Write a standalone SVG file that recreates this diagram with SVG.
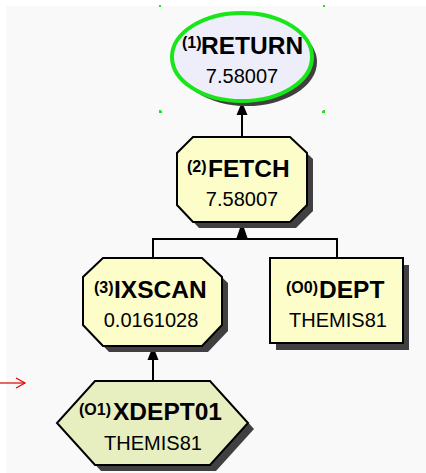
<svg xmlns="http://www.w3.org/2000/svg" width="426" height="473" viewBox="0 0 426 473">
<defs>
<style>
.sh{fill:#404040}
.bd{stroke:#000;stroke-width:2}
.y{fill:#fdfdc9}
.g{fill:#e7efc1}
.t{font-family:"Liberation Sans",Arial,sans-serif;fill:#000}
.sup{font-size:16px;font-weight:bold}
.big{font-size:24.5px;font-weight:bold}
.val{font-size:20px;text-anchor:middle}
.ln{stroke:#000;stroke-width:2;fill:none}
.hd{fill:#000}
.sel{stroke:#19e619;stroke-width:2;fill:none}
</style>
</defs>
<rect x="0" y="0" width="426" height="473" fill="#ffffff"/>
<rect x="6" y="6" width="420" height="467" fill="#f9f9f9"/>
<g id="connectors">
<line class="ln" x1="242" y1="137" x2="242" y2="110"/>
<polygon class="hd" points="242,102 236.5,115 247.5,115"/>
<line class="ln" x1="242" y1="239" x2="242" y2="230"/>
<polygon class="hd" points="242,222 236.5,238 247.5,238"/>
<polyline class="ln" points="153,258 153,239 337,239 337,258"/>
<line class="ln" x1="153" y1="381" x2="153" y2="355"/>
<polygon class="hd" points="153,346 147.5,360 158.5,360"/>
</g>
<g id="n1">
<ellipse class="sh" cx="247" cy="62" rx="70" ry="44"/>
<ellipse cx="242" cy="57" rx="70" ry="44" fill="#eeeefb" stroke="#19e619" stroke-width="4"/>
<text class="t"><tspan class="sup" x="182" y="48">(1)</tspan><tspan class="big" x="201" y="54">RETURN</tspan></text>
<text class="t val" x="242" y="83">7.58007</text>
<path class="sel" d="M160,5 v2 M324,5 v2 M160,110 v2 h2 M324,110 v2 h-2"/>
</g>
<g id="n2">
<polygon class="sh" points="199,143 296,143 313,159 313,211 296,228 199,228 183,211 183,159"/>
<polygon class="y bd" points="193,137 290,137 307,153 307,205 290,222 193,222 177,205 177,153"/>
<text class="t"><tspan class="sup" x="187" y="172">(2)</tspan><tspan class="big" x="208" y="177">FETCH</tspan></text>
<text class="t val" x="242" y="206">7.58007</text>
</g>
<g id="n3">
<polygon class="sh" points="109,264 208,264 228,283 228,331 208,352 109,352 89,331 89,283"/>
<polygon class="y bd" points="103,258 202,258 222,277 222,325 202,346 103,346 83,325 83,277"/>
<text class="t"><tspan class="sup" x="94" y="293">(3)</tspan><tspan class="big" x="114" y="298">IXSCAN</tspan></text>
<text class="t val" x="151" y="327">0.0161028</text>
</g>
<g id="n4">
<rect class="sh" x="276" y="265" width="133" height="85"/>
<rect class="y bd" x="270" y="258" width="133" height="85"/>
<text class="t"><tspan class="sup" x="286" y="293">(O0)</tspan><tspan class="big" x="319" y="298">DEPT</tspan></text>
<text class="t val" x="338" y="327">THEMIS81</text>
</g>
<g id="n5">
<polygon class="sh" points="101,387 216,387 254,429 216,471 101,471 63,429"/>
<polygon class="g bd" points="95,381 210,381 248,423 210,465 95,465 57,423"/>
<text class="t"><tspan class="sup" x="79" y="415">(O1)</tspan><tspan class="big" x="113" y="420">XDEPT01</tspan></text>
<text class="t val" x="153" y="450">THEMIS81</text>
</g>
<g id="pointer">
<line x1="0" y1="383" x2="25" y2="383" stroke="#e00000" stroke-width="1.2"/>
<polyline points="16,378 25,383 16,388" fill="none" stroke="#e00000" stroke-width="1.2"/>
</g>
</svg>
